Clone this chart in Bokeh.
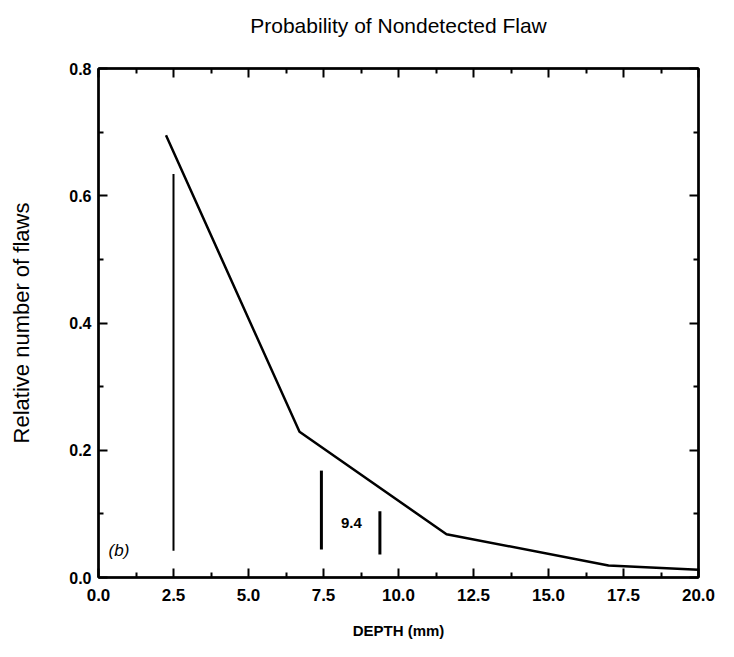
from bokeh.plotting import figure
from bokeh.models import LinearAxis, FixedTicker, Range1d, Label
from bokeh.embed import file_html
from bokeh.resources import INLINE

# ---- data ----
depth = [2.25, 6.7, 11.6, 17.0, 20.0]
rel_flaws = [0.695, 0.229, 0.068, 0.019, 0.012]

bar_x = [2.5, 7.43, 9.38]
bar_bottom = [0.042, 0.044, 0.036]
bar_top = [0.634, 0.168, 0.104]

x_ticks = [0.0, 2.5, 5.0, 7.5, 10.0, 12.5, 15.0, 17.5, 20.0]
x_tick_labels = ["0.0", "2.5", "5.0", "7.5", "10.0", "12.5", "15.0", "17.5", "20.0"]
x_minor = [1.25, 3.75, 6.25, 8.75, 11.25, 13.75, 16.25, 18.75]
y_ticks = [0.0, 0.2, 0.4, 0.6, 0.8]
y_tick_labels = ["0.0", "0.2", "0.4", "0.6", "0.8"]
y_minor = [0.1, 0.3, 0.5, 0.7]

title_text = "Probability of Nondetected Flaw"
x_label = "DEPTH (mm)"
y_label = "Relative number of flaws"
annot_value = "9.4"
panel_tag = "(b)"

FONT = "Liberation Sans"

p = figure(width=718, height=641,
           x_range=Range1d(0, 20), y_range=Range1d(0, 0.8),
           toolbar_location=None, output_backend="svg",
           min_border_left=98, min_border_right=20,
           min_border_top=68, min_border_bottom=64)
p.xgrid.visible = False
p.ygrid.visible = False
p.outline_line_color = "black"
p.outline_line_width = 2
p.background_fill_color = "white"
p.border_fill_color = "white"

xt = FixedTicker(ticks=x_ticks, minor_ticks=x_minor)
yt = FixedTicker(ticks=y_ticks, minor_ticks=y_minor)


def style_axis(ax, show_labels):
    ax.axis_line_width = 2.5
    ax.axis_line_color = "black"
    ax.major_tick_in = 9
    ax.major_tick_out = 0
    ax.minor_tick_in = 5
    ax.minor_tick_out = 0
    ax.major_tick_line_width = 2
    ax.minor_tick_line_width = 2
    ax.major_tick_line_color = "black"
    ax.minor_tick_line_color = "black"
    ax.major_label_text_font = FONT
    ax.major_label_text_font_style = "bold"
    ax.major_label_text_font_size = "15px"
    ax.major_label_text_color = "black"
    if not show_labels:
        ax.major_label_text_alpha = 0
        ax.major_label_text_font_size = "1px"
        ax.major_label_standoff = 0


xa = p.xaxis[0]
xa.ticker = xt
xa.major_label_overrides = {t: l for t, l in zip(x_ticks, x_tick_labels)}
style_axis(xa, True)
xa.major_label_text_font_size = "17px"
xa.major_label_standoff = 11
xa.axis_label = x_label
xa.axis_label_text_font = FONT
xa.axis_label_text_font_style = "bold"
xa.axis_label_text_font_size = "15px"
xa.axis_label_text_color = "black"
xa.axis_label_standoff = 18

ya = p.yaxis[0]
ya.ticker = yt
ya.major_label_overrides = {t: l for t, l in zip(y_ticks, y_tick_labels)}
style_axis(ya, True)
ya.major_label_text_font_size = "16px"
ya.major_label_standoff = 7
ya.axis_label = y_label
ya.axis_label_text_font = FONT
ya.axis_label_text_font_style = "normal"
ya.axis_label_text_font_size = "22px"
ya.axis_label_text_color = "black"
ya.axis_label_standoff = 32

# top axis carries the chart title as its label
top_ax = LinearAxis(ticker=FixedTicker(ticks=x_ticks, minor_ticks=x_minor))
style_axis(top_ax, False)
top_ax.axis_label = title_text
top_ax.axis_label_text_font = FONT
top_ax.axis_label_text_font_style = "normal"
top_ax.axis_label_text_font_size = "21px"
top_ax.axis_label_text_color = "black"
top_ax.axis_label_standoff = 32
p.add_layout(top_ax, "above")
right_ax = LinearAxis(ticker=FixedTicker(ticks=y_ticks, minor_ticks=y_minor))
style_axis(right_ax, False)
p.add_layout(right_ax, "right")

p.line(depth, rel_flaws, line_color="black", line_width=2.5)
p.segment(x0=bar_x, y0=bar_bottom, x1=bar_x, y1=bar_top,
          line_color="black", line_width=[2, 3, 3])

p.add_layout(Label(x=8.43, y=0.085, text=annot_value, text_align="center",
                   text_baseline="middle", text_font=FONT, text_font_style="bold",
                   text_font_size="15px", text_color="black"))
p.add_layout(Label(x=0.68, y=0.042, text=panel_tag, text_align="center",
                   text_baseline="middle", text_font=FONT, text_font_style="italic",
                   text_font_size="17px", text_color="black"))

open("out.html", "w").write(file_html(p, INLINE))
